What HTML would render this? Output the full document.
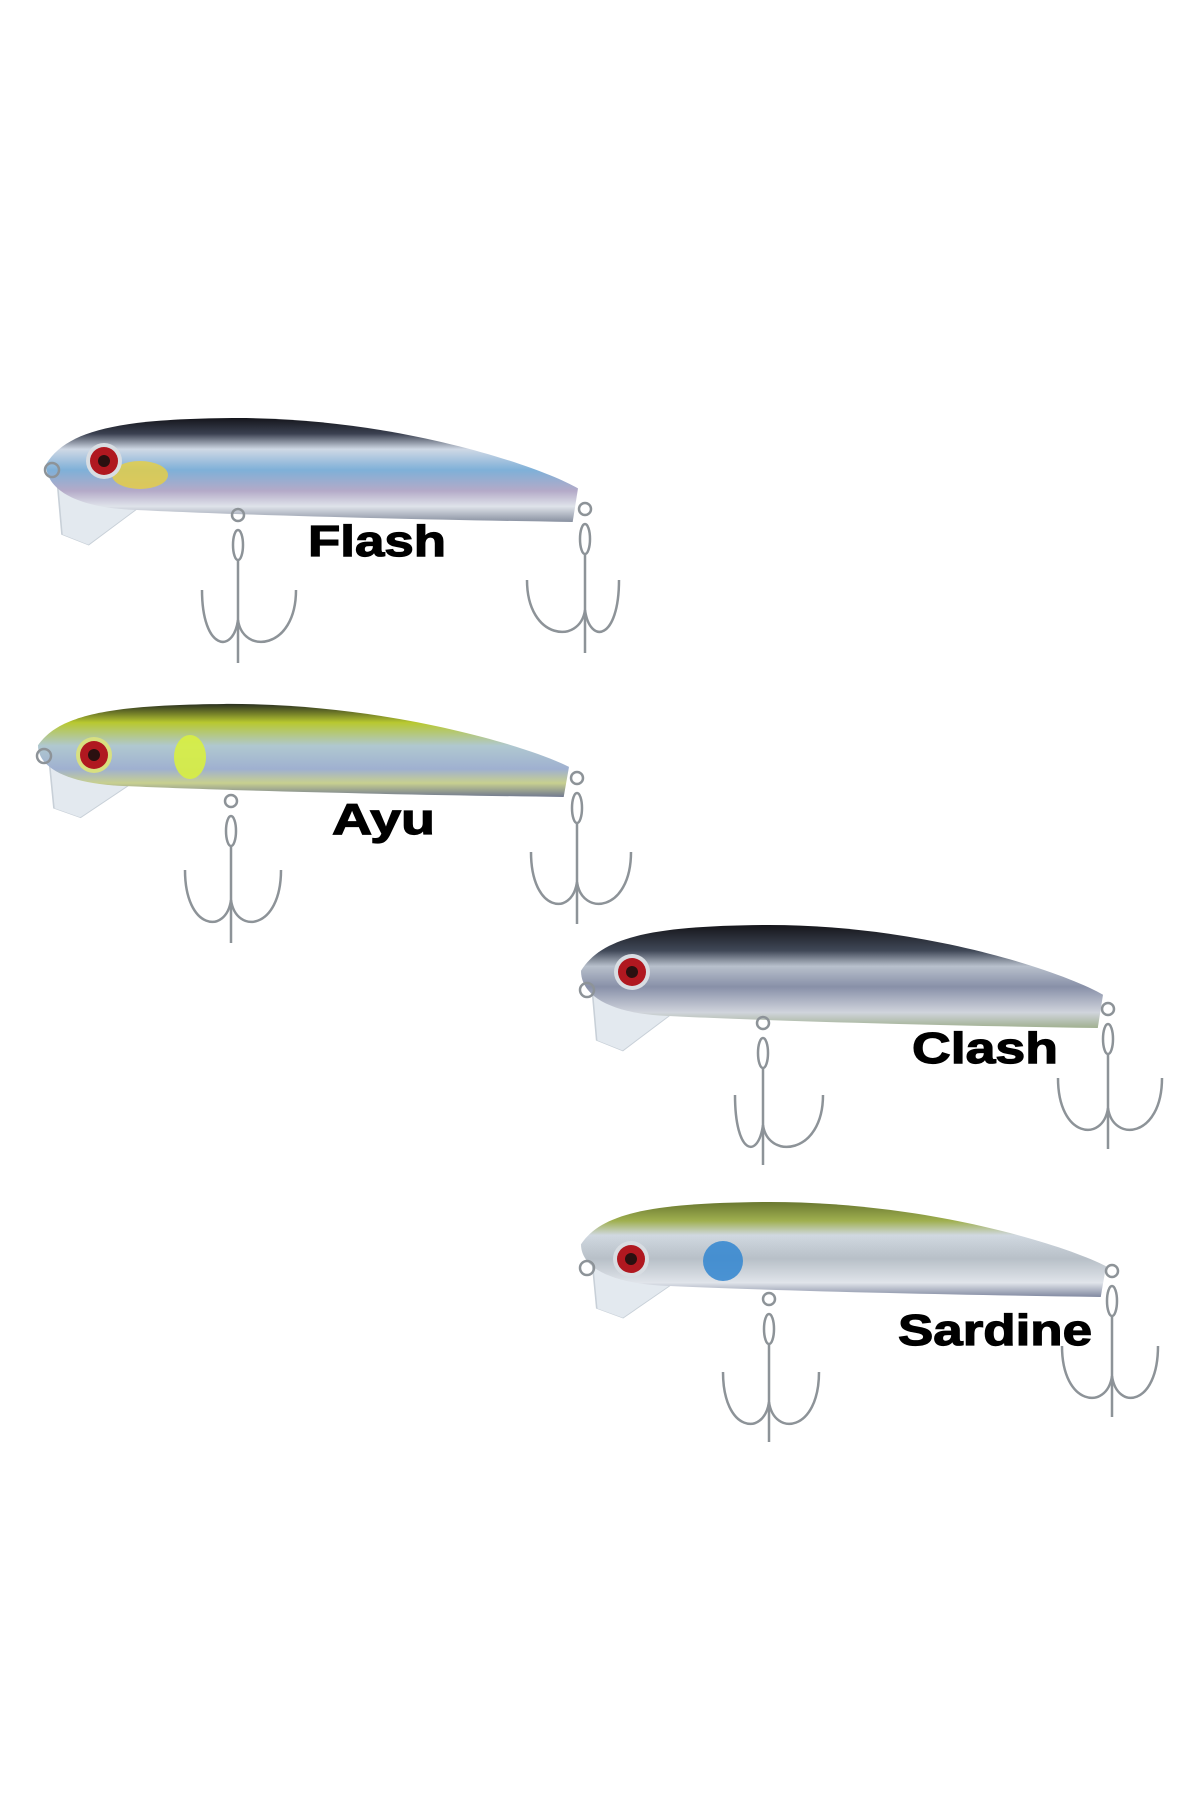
<!DOCTYPE html>
<html><head><meta charset="utf-8"><style>
html,body{margin:0;padding:0;background:#fff;}
svg{display:block;}
text{font-family:"Liberation Sans",Arial,sans-serif;font-weight:bold;font-size:44px;fill:#000;stroke:#000;stroke-width:1.2;}
</style></head><body>
<svg width="1200" height="1800" viewBox="0 0 1200 1800" xmlns="http://www.w3.org/2000/svg">
<defs>
<linearGradient id="gF" x1="0" y1="0" x2="0" y2="1">
<stop offset="0" stop-color="#15161c"/><stop offset="0.15" stop-color="#3a4050"/><stop offset="0.3" stop-color="#cfd8e5"/><stop offset="0.5" stop-color="#7fb0d8"/><stop offset="0.7" stop-color="#b4aac8"/><stop offset="0.85" stop-color="#dfe3ea"/><stop offset="1" stop-color="#8890a0"/></linearGradient>
<linearGradient id="gA" x1="0" y1="0" x2="0" y2="1">
<stop offset="0" stop-color="#2a3020"/><stop offset="0.2" stop-color="#b8c830"/><stop offset="0.45" stop-color="#b0c8d0"/><stop offset="0.7" stop-color="#9fb0d0"/><stop offset="0.85" stop-color="#c8d090"/><stop offset="1" stop-color="#707890"/></linearGradient>
<linearGradient id="gC" x1="0" y1="0" x2="0" y2="1">
<stop offset="0" stop-color="#15151a"/><stop offset="0.25" stop-color="#404858"/><stop offset="0.4" stop-color="#b8c0cc"/><stop offset="0.6" stop-color="#8890a8"/><stop offset="0.85" stop-color="#d0d4dc"/><stop offset="1" stop-color="#a0b090"/></linearGradient>
<linearGradient id="gS" x1="0" y1="0" x2="0" y2="1">
<stop offset="0" stop-color="#6a7830"/><stop offset="0.2" stop-color="#a0b050"/><stop offset="0.35" stop-color="#d0d8e0"/><stop offset="0.6" stop-color="#b8c0c8"/><stop offset="0.85" stop-color="#e0e4ea"/><stop offset="1" stop-color="#8088a0"/></linearGradient>
</defs>

<g fill="#e3e9ef" stroke="#c8d0d8" stroke-width="0.3">
<path transform="translate(46,417) scale(5.32,1.05)" d="M2,55 L17,88 L8,122 L3,112 Z"/>
<path transform="translate(38,703) scale(5.31,0.94)" d="M2,55 L17,88 L8,122 L3,112 Z"/>
<path transform="translate(581,924) scale(5.22,1.04)" d="M2,55 L17,88 L8,122 L3,112 Z"/>
<path transform="translate(581,1201) scale(5.25,0.96)" d="M2,55 L17,88 L8,122 L3,112 Z"/>
</g>

<g>
<path transform="translate(46,417) scale(5.32,1.05)" fill="url(#gF)" d="M0,45 C4,12 14,2 35,1 C65,0 92,45 100,68 L99,100 C60,97 30,92 15,88 C6,85 0,70 0,45 Z"/>
<path transform="translate(38,703) scale(5.31,0.94)" fill="url(#gA)" d="M0,45 C4,12 14,2 35,1 C65,0 92,45 100,68 L99,100 C60,97 30,92 15,88 C6,85 0,70 0,45 Z"/>
<path transform="translate(581,924) scale(5.22,1.04)" fill="url(#gC)" d="M0,45 C4,12 14,2 35,1 C65,0 92,45 100,68 L99,100 C60,97 30,92 15,88 C6,85 0,70 0,45 Z"/>
<path transform="translate(581,1201) scale(5.25,0.96)" fill="url(#gS)" d="M0,45 C4,12 14,2 35,1 C65,0 92,45 100,68 L99,100 C60,97 30,92 15,88 C6,85 0,70 0,45 Z"/>
</g>

<ellipse cx="140" cy="475" rx="28" ry="14" fill="#e8d040" opacity="0.8"/>
<ellipse cx="190" cy="757" rx="16" ry="22" fill="#d8f040" opacity="0.9"/>
<ellipse cx="723" cy="1261" rx="20" ry="20" fill="#3a8ad0" opacity="0.9"/>

<g>
<circle cx="104" cy="461" r="18" fill="#d8dde2"/><circle cx="104" cy="461" r="14" fill="#b01820"/><circle cx="104" cy="461" r="6" fill="#2a1010"/>
<circle cx="94" cy="755" r="18" fill="#d8e080"/><circle cx="94" cy="755" r="14" fill="#b01820"/><circle cx="94" cy="755" r="6" fill="#2a1010"/>
<circle cx="632" cy="972" r="18" fill="#d8dde2"/><circle cx="632" cy="972" r="14" fill="#b01820"/><circle cx="632" cy="972" r="6" fill="#2a1010"/>
<circle cx="631" cy="1259" r="18" fill="#d8dde2"/><circle cx="631" cy="1259" r="14" fill="#b01820"/><circle cx="631" cy="1259" r="6" fill="#2a1010"/>
</g>

<g fill="none" stroke="#8d9398" stroke-width="2.5">
<circle cx="52" cy="470" r="7"/><circle cx="44" cy="756" r="7"/><circle cx="587" cy="990" r="7"/><circle cx="587" cy="1268" r="7"/>
<g><circle cx="238" cy="515" r="6"/><ellipse cx="238" cy="545" rx="5" ry="15"/><line x1="238" y1="560" x2="238" y2="663"/><path d="M202,590 C202,650 233,655 238,620 M296,590 C296,650 243,655 238,620"/></g>
<g><circle cx="585" cy="509" r="6"/><ellipse cx="585" cy="539" rx="5" ry="15"/><line x1="585" y1="554" x2="585" y2="653"/><path d="M527,580 C527,640 580,645 585,610 M619,580 C619,640 590,645 585,610"/></g>
<g><circle cx="231" cy="801" r="6"/><ellipse cx="231" cy="831" rx="5" ry="15"/><line x1="231" y1="846" x2="231" y2="943"/><path d="M185,870 C185,930 226,935 231,900 M281,870 C281,930 236,935 231,900"/></g>
<g><circle cx="577" cy="778" r="6"/><ellipse cx="577" cy="808" rx="5" ry="15"/><line x1="577" y1="823" x2="577" y2="924"/><path d="M531,852 C531,912 572,917 577,882 M631,852 C631,912 582,917 577,882"/></g>
<g><circle cx="763" cy="1023" r="6"/><ellipse cx="763" cy="1053" rx="5" ry="15"/><line x1="763" y1="1068" x2="763" y2="1165"/><path d="M735,1095 C735,1155 758,1160 763,1125 M823,1095 C823,1155 768,1160 763,1125"/></g>
<g><circle cx="1108" cy="1009" r="6"/><ellipse cx="1108" cy="1039" rx="5" ry="15"/><line x1="1108" y1="1054" x2="1108" y2="1149"/><path d="M1058,1078 C1058,1138 1103,1143 1108,1108 M1162,1078 C1162,1138 1113,1143 1108,1108"/></g>
<g><circle cx="769" cy="1299" r="6"/><ellipse cx="769" cy="1329" rx="5" ry="15"/><line x1="769" y1="1344" x2="769" y2="1442"/><path d="M723,1372 C723,1432 764,1437 769,1402 M819,1372 C819,1432 774,1437 769,1402"/></g>
<g><circle cx="1112" cy="1271" r="6"/><ellipse cx="1112" cy="1301" rx="5" ry="15"/><line x1="1112" y1="1316" x2="1112" y2="1417"/><path d="M1062,1346 C1062,1406 1107,1411 1112,1376 M1158,1346 C1158,1406 1117,1411 1112,1376"/></g>
</g>

<text x="308" y="556" textLength="138" lengthAdjust="spacingAndGlyphs">Flash</text>
<text x="332" y="834" textLength="103" lengthAdjust="spacingAndGlyphs">Ayu</text>
<text x="912" y="1063" textLength="146" lengthAdjust="spacingAndGlyphs">Clash</text>
<text x="898" y="1345" textLength="194" lengthAdjust="spacingAndGlyphs">Sardine</text>
</svg>
</body></html>
